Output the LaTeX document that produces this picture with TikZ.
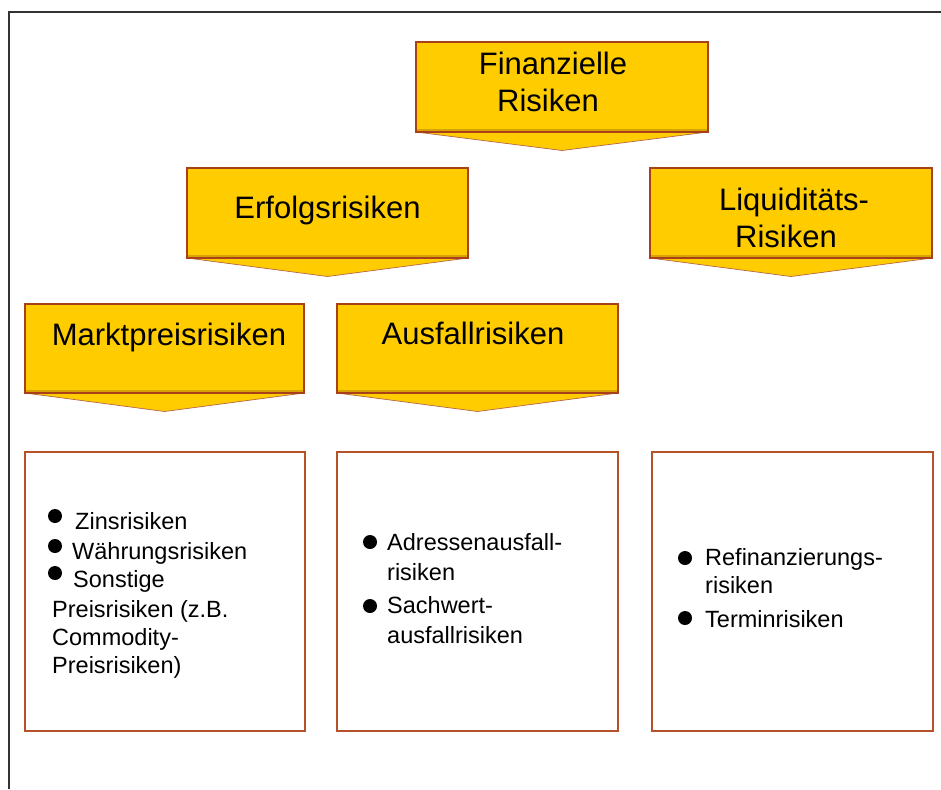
\documentclass[tikz,border=0pt]{standalone}
\usepackage{fontspec}
\setmainfont{Liberation Sans}
\usetikzlibrary{calc}
\definecolor{gold}{HTML}{FFCC00}
\definecolor{brd}{HTML}{A8401A}
\definecolor{boxbrd}{HTML}{B5522A}
\definecolor{frm}{HTML}{333333}
\definecolor{shad}{HTML}{D6A300}
\begin{document}
\begin{tikzpicture}[x=1pt,y=-1pt,
  hdr/.style={draw=brd, line width=1.2pt, fill=gold, inner sep=0pt, outer sep=0pt},
  tri/.style={fill=gold, draw=brd!80, line width=0.7pt},
  lbox/.style={draw=boxbrd, line width=2pt, fill=white, inner sep=0pt, outer sep=0pt},
  htext/.style={font=\fontsize{31}{37}\selectfont, anchor=base, inner sep=0pt},
  btext/.style={font=\fontsize{23.5}{28}\selectfont, anchor=base west, inner sep=0pt},
  dot/.style={circle, fill=black, inner sep=0pt, minimum size=14pt}
]
\useasboundingbox[fill=white] (0,0) rectangle (941,789);
% outer frame
\draw[frm, line width=2.4pt] (9,789) -- (9,12) -- (941,12);

% header boxes (rectangles)
\node[hdr, minimum width=292pt, minimum height=90pt] (fin) at (562,87) {};
\node[hdr, minimum width=281pt, minimum height=90pt] (erf) at (327.5,213) {};
\node[hdr, minimum width=282pt, minimum height=90pt] (liq) at (791,213) {};
\node[hdr, minimum width=279pt, minimum height=89pt] (mkt) at (164.5,348.5) {};
\node[hdr, minimum width=281pt, minimum height=89pt] (aus) at (477.5,348.5) {};

% arrow tips below header boxes
\foreach \n in {fin,erf,liq,mkt,aus}{
  \draw[tri] (\n.south west) -- ($(\n.south)+(0,18.5)$) -- (\n.south east);
  \draw[shad, line width=1.6pt] ($(\n.south west)+(1,-1.8)$) -- ($(\n.south east)+(-1,-1.8)$);
  \draw[brd, line width=1.2pt] (\n.south west) -- (\n.south east);
}

% header texts
\node[htext] (fin1) at (553,75) {Finanzielle};
\node[htext] (fin2) at (548,112) {Risiken};
\node[htext] (erft) at (327.5,218) {Erfolgsrisiken};
\node[htext] (liq1) at (794,210) {Liquiditäts-};
\node[htext] (liq2) at (786,247) {Risiken};
\node[htext] (mktt) at (169,345) {Marktpreisrisiken};
\node[htext] (aust) at (473,344) {Ausfallrisiken};

% lower boxes
\node[lbox, minimum width=280pt, minimum height=279pt] (b1) at (165,591.5) {};
\node[lbox, minimum width=281pt, minimum height=279pt] (b2) at (477.5,591.5) {};
\node[lbox, minimum width=281pt, minimum height=279pt] (b3) at (792.5,591.5) {};

% box 1
\node[dot] (d11) at (55,516) {};
\node[dot] (d12) at (55,546) {};
\node[dot] (d13) at (55,573) {};
\node[btext] (t11) at (75,529) {Zinsrisiken};
\node[btext] (t12) at (72,559) {Währungsrisiken};
\node[btext] (t13) at (73,587) {Sonstige};
\node[btext] (t14) at (52,617) {Preisrisiken (z.B.};
\node[btext] (t15) at (52,645) {Commodity-};
\node[btext] (t16) at (52,673) {Preisrisiken)};

% box 2
\node[dot] (d21) at (370,542) {};
\node[dot] (d22) at (370,606) {};
\node[btext] (t21) at (387,550) {Adressenausfall-};
\node[btext] (t22) at (387,580) {risiken};
\node[btext] (t23) at (387,613) {Sachwert-};
\node[btext] (t24) at (387,643) {ausfallrisiken};

% box 3
\node[dot] (d31) at (685,558) {};
\node[dot] (d32) at (685,618) {};
\node[btext] (t31) at (705,565) {Refinanzierungs-};
\node[btext] (t32) at (705,593) {risiken};
\node[btext] (t33) at (705,627) {Terminrisiken};
\end{tikzpicture}
\end{document}
